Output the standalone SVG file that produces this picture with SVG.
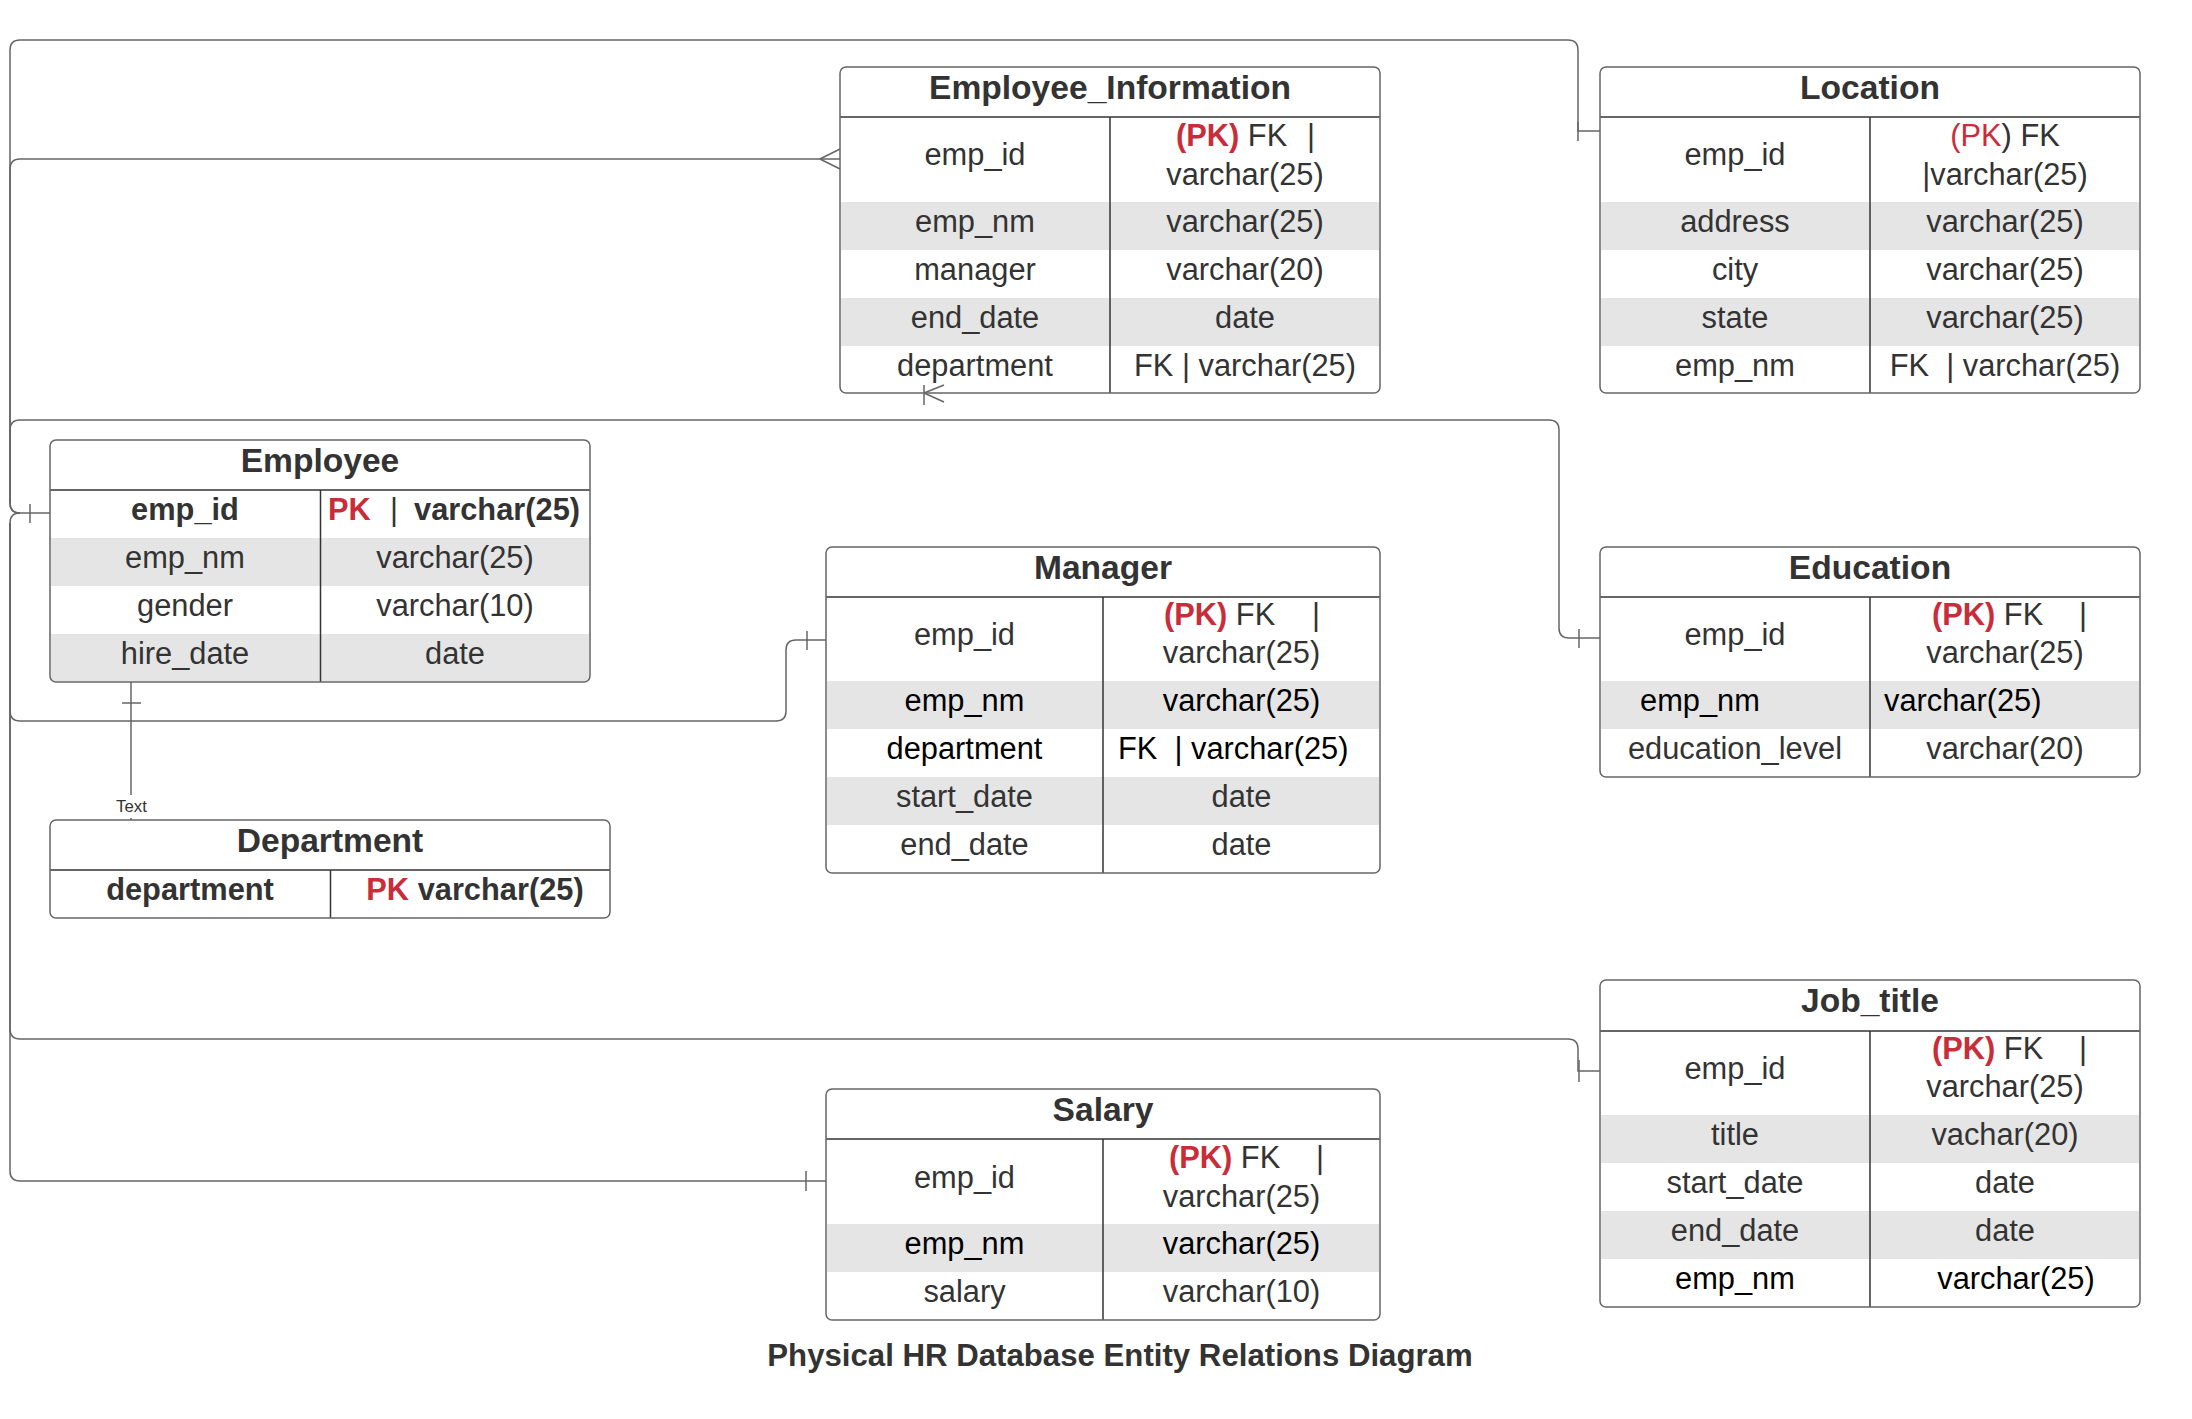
<svg xmlns="http://www.w3.org/2000/svg" width="2192" height="1419" viewBox="0 0 2192 1419">
<style>
text{font-family:"Liberation Sans",Arial,sans-serif;font-size:30.8px;fill:#333}
.c{text-anchor:middle}
.h{font-size:33.6px;font-weight:bold;text-anchor:middle}
.b{font-weight:bold}
.r{fill:#c92d39}
.k{fill:#000}
.bg{fill:#fff}
.g{fill:#e5e5e5}
.ln{stroke:#333;stroke-width:1.5}
.bx{fill:none;stroke:#666;stroke-width:1.5}
.cn{fill:none;stroke:#666;stroke-width:1.5}
</style>
<rect width="2192" height="1419" fill="#fff"/>
<g id="employee_information">
<rect class="bg" x="840" y="67" width="540" height="326" rx="6"/>
<rect class="g" x="841" y="202" width="538" height="48"/>
<rect class="g" x="841" y="298" width="538" height="48"/>
<line class="ln" x1="840" y1="117" x2="1380" y2="117"/>
<line class="ln" x1="1110" y1="117" x2="1110" y2="393"/>
<rect class="bx" x="840" y="67" width="540" height="326" rx="6"/>
<text x="1110" y="99" class="h">Employee_Information</text>
<text x="975" y="165" class="c">emp_id</text>
<text x="1176" y="146"><tspan class="b r">(PK)</tspan> FK<tspan x="1307">|</tspan></text>
<text x="1245" y="185" class="c">varchar(25)</text>
<text x="975" y="232" class="c">emp_nm</text>
<text x="1245" y="232" class="c">varchar(25)</text>
<text x="975" y="280" class="c">manager</text>
<text x="1245" y="280" class="c">varchar(20)</text>
<text x="975" y="328" class="c">end_date</text>
<text x="1245" y="328" class="c">date</text>
<text x="975" y="376" class="c">department</text>
<text x="1245" y="376" class="c">FK | varchar(25)</text>
</g>
<g id="location">
<rect class="bg" x="1600" y="67" width="540" height="326" rx="6"/>
<rect class="g" x="1601" y="202" width="538" height="48"/>
<rect class="g" x="1601" y="298" width="538" height="48"/>
<line class="ln" x1="1600" y1="117" x2="2140" y2="117"/>
<line class="ln" x1="1870" y1="117" x2="1870" y2="393"/>
<rect class="bx" x="1600" y="67" width="540" height="326" rx="6"/>
<text x="1870" y="99" class="h">Location</text>
<text x="1735" y="165" class="c">emp_id</text>
<text x="2005" y="146" class="c"><tspan class="r">(PK</tspan>) FK</text>
<text x="2005" y="185" class="c">|varchar(25)</text>
<text x="1735" y="232" class="c">address</text>
<text x="2005" y="232" class="c">varchar(25)</text>
<text x="1735" y="280" class="c">city</text>
<text x="2005" y="280" class="c">varchar(25)</text>
<text x="1735" y="328" class="c">state</text>
<text x="2005" y="328" class="c">varchar(25)</text>
<text x="1735" y="376" class="c">emp_nm</text>
<text x="2005" y="376" class="c" xml:space="preserve">FK  | varchar(25)</text>
</g>
<g id="employee">
<rect class="bg" x="50" y="440" width="540" height="242" rx="6"/>
<rect class="g" x="51" y="538" width="538" height="48"/>
<rect class="g" x="51" y="634" width="538" height="47"/>
<line class="ln" x1="50" y1="490" x2="590" y2="490"/>
<line class="ln" x1="320.5" y1="490" x2="320.5" y2="682"/>
<rect class="bx" x="50" y="440" width="540" height="242" rx="6"/>
<text x="320" y="472" class="h">Employee</text>
<text x="185" y="520" class="c b">emp_id</text>
<text x="328" y="520" class="b"><tspan class="r">PK</tspan><tspan x="390" style="font-weight:normal">|</tspan><tspan x="414">varchar(25)</tspan></text>
<text x="185" y="568" class="c">emp_nm</text>
<text x="455" y="568" class="c">varchar(25)</text>
<text x="185" y="616" class="c">gender</text>
<text x="455" y="616" class="c">varchar(10)</text>
<text x="185" y="664" class="c">hire_date</text>
<text x="455" y="664" class="c">date</text>
</g>
<g id="department">
<rect class="bg" x="50" y="820" width="560" height="98" rx="6"/>
<line class="ln" x1="50" y1="870" x2="610" y2="870"/>
<line class="ln" x1="330.5" y1="870" x2="330.5" y2="918"/>
<rect class="bx" x="50" y="820" width="560" height="98" rx="6"/>
<text x="330" y="852" class="h">Department</text>
<text x="190" y="900" class="c b">department</text>
<text x="475" y="900" class="c b"><tspan class="r">PK</tspan> varchar(25)</text>
</g>
<g id="manager">
<rect class="bg" x="826" y="547" width="554" height="326" rx="6"/>
<rect class="g" x="827" y="681" width="552" height="48"/>
<rect class="g" x="827" y="777" width="552" height="48"/>
<line class="ln" x1="826" y1="597" x2="1380" y2="597"/>
<line class="ln" x1="1103" y1="597" x2="1103" y2="873"/>
<rect class="bx" x="826" y="547" width="554" height="326" rx="6"/>
<text x="1103" y="579" class="h">Manager</text>
<text x="964.5" y="645" class="c">emp_id</text>
<text x="1164" y="625"><tspan class="b r">(PK)</tspan> FK<tspan x="1312">|</tspan></text>
<text x="1241.5" y="663" class="c">varchar(25)</text>
<text x="964.5" y="711" class="c k">emp_nm</text>
<text x="1241.5" y="711" class="c k">varchar(25)</text>
<text x="964.5" y="759" class="c k">department</text>
<text x="1118" y="759" class="k" xml:space="preserve">FK  | varchar(25)</text>
<text x="964.5" y="807" class="c">start_date</text>
<text x="1241.5" y="807" class="c">date</text>
<text x="964.5" y="855" class="c">end_date</text>
<text x="1241.5" y="855" class="c">date</text>
</g>
<g id="education">
<rect class="bg" x="1600" y="547" width="540" height="230" rx="6"/>
<rect class="g" x="1601" y="681" width="538" height="48"/>
<line class="ln" x1="1600" y1="597" x2="2140" y2="597"/>
<line class="ln" x1="1870" y1="597" x2="1870" y2="777"/>
<rect class="bx" x="1600" y="547" width="540" height="230" rx="6"/>
<text x="1870" y="579" class="h">Education</text>
<text x="1735" y="645" class="c">emp_id</text>
<text x="1932" y="625"><tspan class="b r">(PK)</tspan> FK<tspan x="2079">|</tspan></text>
<text x="2005" y="663" class="c">varchar(25)</text>
<text x="1640" y="711" class="k">emp_nm</text>
<text x="1884" y="711" class="k">varchar(25)</text>
<text x="1735" y="759" class="c">education_level</text>
<text x="2005" y="759" class="c">varchar(20)</text>
</g>
<g id="job_title">
<rect class="bg" x="1600" y="980" width="540" height="327" rx="6"/>
<rect class="g" x="1601" y="1115" width="538" height="48"/>
<rect class="g" x="1601" y="1211" width="538" height="48"/>
<line class="ln" x1="1600" y1="1031" x2="2140" y2="1031"/>
<line class="ln" x1="1870" y1="1031" x2="1870" y2="1307"/>
<rect class="bx" x="1600" y="980" width="540" height="327" rx="6"/>
<text x="1870" y="1012" class="h">Job_title</text>
<text x="1735" y="1079" class="c">emp_id</text>
<text x="1932" y="1059"><tspan class="b r">(PK)</tspan> FK<tspan x="2079">|</tspan></text>
<text x="2005" y="1097" class="c">varchar(25)</text>
<text x="1735" y="1145" class="c">title</text>
<text x="2005" y="1145" class="c">vachar(20)</text>
<text x="1735" y="1193" class="c">start_date</text>
<text x="2005" y="1193" class="c">date</text>
<text x="1735" y="1241" class="c">end_date</text>
<text x="2005" y="1241" class="c">date</text>
<text x="1735" y="1289" class="c k">emp_nm</text>
<text x="2016" y="1289" class="c k">varchar(25)</text>
</g>
<g id="salary">
<rect class="bg" x="826" y="1089" width="554" height="231" rx="6"/>
<rect class="g" x="827" y="1224" width="552" height="48"/>
<line class="ln" x1="826" y1="1139" x2="1380" y2="1139"/>
<line class="ln" x1="1103" y1="1139" x2="1103" y2="1320"/>
<rect class="bx" x="826" y="1089" width="554" height="231" rx="6"/>
<text x="1103" y="1121" class="h">Salary</text>
<text x="964.5" y="1188" class="c">emp_id</text>
<text x="1169" y="1168"><tspan class="b r">(PK)</tspan> FK<tspan x="1316">|</tspan></text>
<text x="1241.5" y="1207" class="c">varchar(25)</text>
<text x="964.5" y="1254" class="c k">emp_nm</text>
<text x="1241.5" y="1254" class="c k">varchar(25)</text>
<text x="964.5" y="1302" class="c">salary</text>
<text x="1241.5" y="1302" class="c">varchar(10)</text>
</g>
<g id="connectors">
<path class="cn" d="M1600,131 L1578,131 L1578,50 Q1578,40 1568,40 L20,40 Q10,40 10,50 L10,503 Q10,513 20,513 L50,513"/>
<path class="cn" d="M1578,122 L1578,141"/>
<path class="cn" d="M840,159 L20,159 Q10,159 10,169 L10,503 Q10,513 20,513"/>
<path class="cn" d="M820,159 L840,149 M820,159 L840,169"/>
<path class="cn" d="M1600,638 L1569,638 Q1559,638 1559,628 L1559,430 Q1559,420 1549,420 L20,420 Q10,420 10,430 L10,503"/>
<path class="cn" d="M1579,629 L1579,648"/>
<path class="cn" d="M826,640 L796,640 Q786,640 786,650 L786,711 Q786,721 776,721 L20,721 Q10,721 10,711 L10,523 Q10,513 20,513"/>
<path class="cn" d="M807,631 L807,650"/>
<path class="cn" d="M1600,1071 L1578,1071 L1578,1049 Q1578,1039 1568,1039 L20,1039 Q10,1039 10,1029 L10,523"/>
<path class="cn" d="M1579,1060 L1579,1082"/>
<path class="cn" d="M826,1181 L20,1181 Q10,1181 10,1171 L10,523"/>
<path class="cn" d="M806,1171 L806,1191"/>
<path class="cn" d="M30,504 L30,523"/>
<path class="cn" d="M924,385 L924,405 M924,393 L944,385 M924,393 L944,402"/>
<path class="cn" d="M131,682 L131,795 M131,818 L131,820"/>
<path class="cn" d="M122,703 L141,703"/>
<text x="131.5" y="812" class="c" style="font-size:16.8px">Text</text>
</g>
<text x="1120" y="1366" class="c b" style="font-size:31.2px">Physical HR Database Entity Relations Diagram</text>
</svg>
